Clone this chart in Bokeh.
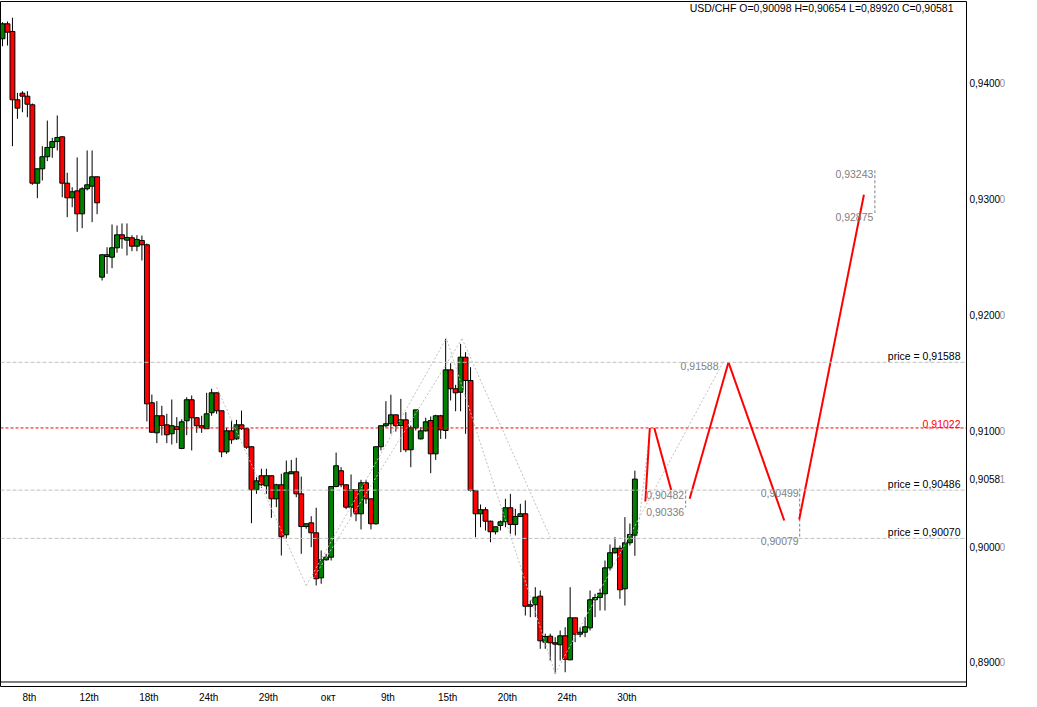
from bokeh.plotting import figure
from bokeh.models import Range1d, FixedTicker, Span, Label, ColumnDataSource, LinearAxis
from bokeh.embed import file_html
from bokeh.resources import INLINE
from bokeh.core.properties import value

FONT = "Liberation Sans"

# ---------------- data (USD/CHF candles) ----------------
opens = [
    0.94377, 0.94506, 0.94440, 0.93851, 0.93908, 0.93882, 0.93808, 0.93132, 0.93256, 0.93360,
    0.93440, 0.93491, 0.93532, 0.93132, 0.93006, 0.93066, 0.92868, 0.93084, 0.93106, 0.93187,
    0.92322, 0.92500, 0.92494, 0.92575, 0.92687, 0.92641, 0.92661, 0.92589, 0.92638, 0.92601,
    0.91239, 0.90980, 0.91127, 0.91049, 0.90972, 0.91032, 0.90845, 0.91084, 0.91265, 0.91110,
    0.91041, 0.91015, 0.91153, 0.91325, 0.91170, 0.90816, 0.90997, 0.90928, 0.91049, 0.91015,
    0.90860, 0.90489, 0.90610, 0.90523, 0.90610, 0.90411, 0.90532, 0.90101, 0.90627, 0.90644,
    0.90454, 0.90172, 0.90204, 0.90118, 0.89730, 0.89885, 0.89908, 0.90517, 0.90653, 0.90532,
    0.90339, 0.90489, 0.90282, 0.90549, 0.90411, 0.90196, 0.90860, 0.91041, 0.91058, 0.91135,
    0.91043, 0.91092, 0.90834, 0.91023, 0.90928, 0.90997, 0.91086, 0.90799, 0.91127, 0.91000,
    0.91523, 0.91360, 0.91330, 0.91632, 0.91431, 0.90483, 0.90282, 0.90317, 0.90218, 0.90127,
    0.90181, 0.90213, 0.90334, 0.90190, 0.90259, 0.90282, 0.89498, 0.89498, 0.89572, 0.89175,
    0.89227, 0.89170, 0.89153, 0.89230, 0.89023, 0.89385, 0.89244, 0.89261, 0.89299, 0.89541,
    0.89560, 0.89592, 0.89816, 0.89946, 0.89985, 0.89635, 0.90032, 0.90098,
]
highs = [
    0.94520, 0.94526, 0.94558, 0.93911, 0.93925, 0.93925, 0.93819, 0.93259, 0.93451, 0.93672,
    0.93523, 0.93716, 0.93535, 0.93222, 0.93097, 0.93354, 0.93097, 0.93414, 0.93414, 0.93190,
    0.92517, 0.92580, 0.92776, 0.92767, 0.92785, 0.92785, 0.92684, 0.92684, 0.92681, 0.92612,
    0.91310, 0.91253, 0.91213, 0.91144, 0.91267, 0.91115, 0.91097, 0.91287, 0.91302, 0.91112,
    0.91127, 0.91325, 0.91360, 0.91327, 0.91172, 0.91023, 0.91092, 0.91092, 0.91172, 0.91017,
    0.90862, 0.90597, 0.90670, 0.90670, 0.90612, 0.90541, 0.90627, 0.90741, 0.90747, 0.90765,
    0.90603, 0.90196, 0.90261, 0.90334, 0.89966, 0.89937, 0.90517, 0.90810, 0.90684, 0.90534,
    0.90621, 0.90491, 0.90575, 0.90575, 0.90413, 0.90862, 0.91043, 0.91253, 0.91308, 0.91137,
    0.91273, 0.91158, 0.91043, 0.91178, 0.91028, 0.91110, 0.91121, 0.91135, 0.91135, 0.91791,
    0.91580, 0.91394, 0.91747, 0.91675, 0.91546, 0.90485, 0.90362, 0.90339, 0.90224, 0.90170,
    0.90224, 0.90411, 0.90454, 0.90325, 0.90368, 0.90397, 0.89535, 0.89649, 0.89621, 0.89248,
    0.89248, 0.89218, 0.89276, 0.89304, 0.89649, 0.89387, 0.89304, 0.89391, 0.89621, 0.89592,
    0.89635, 0.89879, 0.90017, 0.90080, 0.90009, 0.90253, 0.90198, 0.90654,
]
lows = [
    0.94313, 0.94319, 0.93451, 0.93687, 0.93744, 0.93701, 0.93118, 0.93003, 0.93155, 0.93322,
    0.93351, 0.93414, 0.93011, 0.92839, 0.92925, 0.92713, 0.92744, 0.93069, 0.92796, 0.92865,
    0.92293, 0.92351, 0.92399, 0.92532, 0.92567, 0.92509, 0.92546, 0.92546, 0.92466, 0.91078,
    0.90980, 0.90891, 0.90957, 0.90891, 0.90879, 0.90891, 0.90839, 0.90960, 0.90828, 0.90980,
    0.90980, 0.91013, 0.91127, 0.91144, 0.90770, 0.90799, 0.90885, 0.90920, 0.91006, 0.90842,
    0.90201, 0.90454, 0.90506, 0.90454, 0.90247, 0.90339, 0.89922, 0.90066, 0.90625, 0.90425,
    0.89937, 0.90153, 0.89994, 0.89664, 0.89679, 0.89879, 0.89879, 0.90511, 0.90511, 0.90322,
    0.90253, 0.90218, 0.90147, 0.90368, 0.90147, 0.90187, 0.90828, 0.91028, 0.90972, 0.90991,
    0.90813, 0.90813, 0.90684, 0.91000, 0.90922, 0.90991, 0.90632, 0.90747, 0.90928, 0.90928,
    0.91259, 0.91166, 0.91166, 0.90972, 0.90474, 0.90080, 0.90166, 0.90138, 0.90037, 0.90104,
    0.90138, 0.90166, 0.90110, 0.90095, 0.90253, 0.89405, 0.89391, 0.89391, 0.89118, 0.89118,
    0.89017, 0.88903, 0.89017, 0.88916, 0.89020, 0.89175, 0.89218, 0.89218, 0.89276, 0.89391,
    0.89448, 0.89448, 0.89793, 0.89937, 0.89549, 0.89491, 0.90009, 0.89920,
]
closes = [
    0.94506, 0.94434, 0.93851, 0.93779, 0.93882, 0.93813, 0.93132, 0.93256, 0.93360, 0.93440,
    0.93491, 0.93526, 0.93132, 0.93006, 0.93058, 0.92868, 0.93084, 0.93118, 0.93187, 0.92963,
    0.92515, 0.92515, 0.92575, 0.92687, 0.92653, 0.92664, 0.92589, 0.92647, 0.92601, 0.91230,
    0.90985, 0.91127, 0.91043, 0.90963, 0.91041, 0.91009, 0.91075, 0.91265, 0.91110, 0.91041,
    0.91023, 0.91144, 0.91325, 0.91170, 0.90816, 0.90997, 0.90920, 0.91049, 0.91015, 0.90856,
    0.90489, 0.90566, 0.90532, 0.90610, 0.90411, 0.90532, 0.90084, 0.90635, 0.90644, 0.90454,
    0.90172, 0.90196, 0.90118, 0.89722, 0.89885, 0.89908, 0.90517, 0.90696, 0.90532, 0.90339,
    0.90489, 0.90282, 0.90549, 0.90411, 0.90196, 0.90860, 0.91041, 0.91058, 0.91135, 0.91041,
    0.91092, 0.90834, 0.91023, 0.91178, 0.90997, 0.91075, 0.90799, 0.91127, 0.91006, 0.91523,
    0.91360, 0.91325, 0.91632, 0.91431, 0.90483, 0.90282, 0.90317, 0.90218, 0.90127, 0.90170,
    0.90213, 0.90334, 0.90190, 0.90259, 0.90282, 0.89485, 0.89485, 0.89563, 0.89187, 0.89224,
    0.89170, 0.89158, 0.89230, 0.89028, 0.89385, 0.89244, 0.89261, 0.89308, 0.89541, 0.89560,
    0.89597, 0.89816, 0.89946, 0.89985, 0.89627, 0.90032, 0.90104, 0.90581,
]

# x-axis day labels (bar index where each label sits)
day_ticks = [5.4, 17.4, 29.4, 41.4, 53.4, 65.4, 77.4, 89.4, 101.4, 113.4, 125.4]
day_labels = ["8th", "12th", "18th", "24th", "29th", "окт", "9th", "15th", "20th", "24th", "30th"]

# y-axis price ticks (plus the last close shown on the scale)
price_ticks = [0.89, 0.90, 0.90581, 0.91, 0.92, 0.93, 0.94]
price_labels = ["0,8900", "0,9000", "0,9058", "0,9100", "0,9200", "0,9300", "0,9400"]
price_last_digit = ["0", "0", "1", "0", "0", "0", "0"]

# horizontal levels
grey_levels = [0.91588, 0.90486, 0.90070]
grey_level_text = ["price = 0,91588", "price = 0,90486", "price = 0,90070"]
red_level = 0.91022
red_level_text = "0,91022"

# red projected path segments (bar index, price)
proj_x0 = [129.1, 130.9, 138.0, 145.8, 160.0]
proj_y0 = [0.90388, 0.91022, 0.90411, 0.91588, 0.90233]
proj_x1 = [130.0, 134.3, 145.8, 157.0, 173.0]
proj_y1 = [0.91022, 0.90486, 0.91588, 0.90224, 0.93032]

# grey dotted swing lines
swing_x0 = [43.0, 61.0, 62.4, 92.3, 89.3, 111.0, 127.5]
swing_y0 = [0.91373, 0.89664, 0.89724, 0.91791, 0.91776, 0.88905, 0.90095]
swing_x1 = [61.0, 89.2, 92.3, 110.0, 111.0, 144.8, 130.1]
swing_y1 = [0.89664, 0.91799, 0.91791, 0.90080, 0.88905, 0.91595, 0.91022]

# vertical dashed target markers
mark_x = [137.2, 160.1, 175.2]
mark_top = [0.90482, 0.90499, 0.93243]
mark_bot = [0.90336, 0.90079, 0.92875]

# grey value labels of the projection
val_text = ["0,91588", "0,90482", "0,90336", "0,90499", "0,90079", "0,93243", "0,92875"]
val_x = [143.8, 136.9, 136.9, 159.9, 159.9, 174.9, 174.9]
val_y = [0.91588, 0.90482, 0.90336, 0.90499, 0.90079, 0.93243, 0.92875]

header = "USD/CHF O=0,90098 H=0,90654 L=0,89920 C=0,90581"

# ---------------- figure ----------------
bar = list(range(len(opens)))
src = ColumnDataSource(dict(
    bar=bar, open=opens, high=highs, low=lows, close=closes,
    top=[max(o, c) for o, c in zip(opens, closes)],
    bottom=[min(o, c) for o, c in zip(opens, closes)],
    color=["#008000" if c > o else "#ff0000" for o, c in zip(opens, closes)],
))

p = figure(width=1036, height=706,
           x_range=Range1d(-0.4, 193.6), y_range=Range1d(0.887931, 0.946983),
           output_backend="svg", toolbar_location=None, y_axis_location="right",
           min_border_left=0, min_border_top=1, min_border_right=70, min_border_bottom=20)
p.xgrid.visible = False
p.ygrid.visible = False
p.outline_line_color = "black"
p.outline_line_width = 1
p.background_fill_color = "white"
p.border_fill_color = "white"

# y axis (right): main digits
ya = p.yaxis[0]
ya.ticker = FixedTicker(ticks=price_ticks)
ya.major_label_overrides = dict(zip(price_ticks, price_labels))
ya.major_tick_out = 0
ya.major_tick_in = 0
ya.minor_tick_out = 0
ya.minor_tick_in = 0
ya.axis_line_color = None
ya.major_label_standoff = 3
ya.major_label_text_font = FONT
ya.major_label_text_font_size = "10px"
ya.major_label_text_color = "black"

# second right axis: the small grey last digit
ya2 = LinearAxis(ticker=FixedTicker(ticks=price_ticks),
                 major_label_overrides=dict(zip(price_ticks, price_last_digit)),
                 major_tick_out=0, major_tick_in=0, minor_tick_out=0, minor_tick_in=0,
                 axis_line_color=None, major_label_standoff=-4,
                 major_label_text_font=FONT, major_label_text_font_size="10px",
                 major_label_text_color="#909090")
p.add_layout(ya2, "right")

# x axis
xa = p.xaxis[0]
xa.ticker = FixedTicker(ticks=day_ticks)
xa.major_label_overrides = dict(zip(day_ticks, day_labels))
xa.major_tick_out = 0
xa.major_tick_in = 0
xa.minor_tick_out = 0
xa.minor_tick_in = 0
xa.axis_line_color = None
xa.major_label_standoff = 5
xa.major_label_text_font = FONT
xa.major_label_text_font_size = "10px"
xa.major_label_text_color = "black"

# candles
p.segment(x0="bar", y0="high", x1="bar", y1="low", source=src, line_color="black", line_width=1)
p.vbar(x="bar", width=0.98, top="top", bottom="bottom", fill_color="color",
       line_color="black", line_width=1, source=src)

# level lines
for lvl in grey_levels:
    p.add_layout(Span(location=lvl, dimension="width", line_color="#c0c0c0",
                      line_dash="4 2", line_width=1))
p.add_layout(Span(location=red_level, dimension="width", line_color="#ff0000",
                  line_dash="3 2", line_width=1))
# bottom double line
p.add_layout(Span(location=0.88832, dimension="width", line_color="black", line_width=1))

# swing lines
p.segment(x0=swing_x0, y0=swing_y0, x1=swing_x1, y1=swing_y1,
          line_color="#c0c0c0", line_dash="2 2", line_width=1)

# vertical markers
p.segment(x0=mark_x, y0=mark_top, x1=mark_x, y1=mark_bot,
          line_color="#808080", line_dash="3 2", line_width=1)

# red projected path
p.segment(x0=proj_x0, y0=proj_y0, x1=proj_x1, y1=proj_y1,
          line_color="#ff0000", line_width=2)

# value labels
p.text(x=val_x, y=val_y, text=val_text, text_align="right", text_baseline="top",
       text_color="#808080", text_font=value(FONT), text_font_size="10.5px")

p.text(x=[192.4] * len(grey_levels), y=grey_levels, text=grey_level_text,
       text_align="right", text_baseline="bottom", text_color="black",
       text_font=value(FONT), text_font_size="10.5px")
p.text(x=[192.4], y=[red_level], text=[red_level_text],
       text_align="right", text_baseline="bottom", text_color="#ff0000",
       text_font=value(FONT), text_font_size="10.5px")

# header
p.add_layout(Label(x=191.0, y=0.94690, text=header, text_align="right", text_baseline="top",
                   text_font=FONT, text_font_size="10.5px", text_color="black"))

open("out.html", "w").write(file_html(p, INLINE))
